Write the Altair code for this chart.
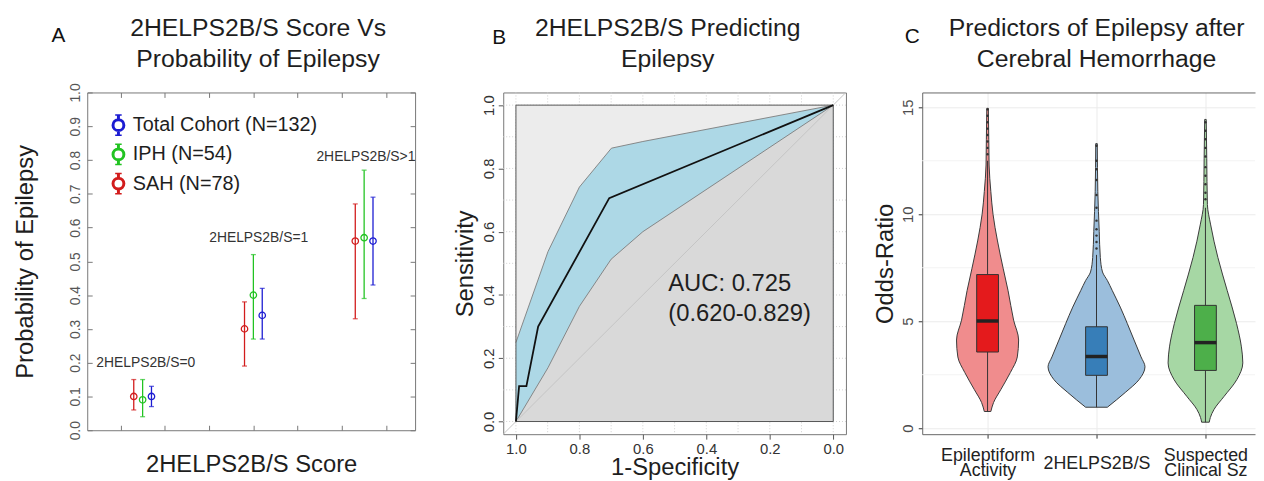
import altair as alt
import pandas as pd

FONT = "Liberation Sans"
TXT = "#1e1e1e"

# ---------------- Panel A data ----------------
A_TITLE = ["2HELPS2B/S Score Vs", "Probability of Epilepsy"]
A_SERIES = ["Total Cohort (N=132)", "IPH (N=54)", "SAH (N=78)"]
A_COLORS = ["#1c1cd2", "#22c322", "#d21c1c"]
A_OFFSETS = [0.2, 0.0, -0.2]
A_GROUP_X = [1.25, 3.75, 6.25]
A_MEAN = {
    "Total Cohort (N=132)": [0.10, 0.34, 0.56],
    "IPH (N=54)": [0.09, 0.40, 0.57],
    "SAH (N=78)": [0.10, 0.30, 0.56],
}
A_LO = {
    "Total Cohort (N=132)": [0.07, 0.27, 0.43],
    "IPH (N=54)": [0.04, 0.27, 0.39],
    "SAH (N=78)": [0.06, 0.19, 0.33],
}
A_HI = {
    "Total Cohort (N=132)": [0.13, 0.42, 0.69],
    "IPH (N=54)": [0.15, 0.52, 0.77],
    "SAH (N=78)": [0.15, 0.38, 0.67],
}
A_GROUP_LABELS = ["2HELPS2B/S=0", "2HELPS2B/S=1", "2HELPS2B/S>1"]
A_LABEL_X = [1.32, 3.87, 6.29]
A_LABEL_Y = [0.20, 0.57, 0.81]
A_XTICKS = [0.75, 1.75, 2.75, 3.75, 4.75, 5.75, 6.75]
A_YTICKS = [0.0, 0.1, 0.2, 0.3, 0.4, 0.5, 0.6, 0.7, 0.8, 0.9, 1.0]
A_XDOMAIN = [0, 7.4]

# ---------------- Panel B data ----------------
B_TITLE = ["2HELPS2B/S Predicting", "Epilepsy"]
B_ROC_SPEC = [1.0, 0.99, 0.967, 0.93, 0.706, 0.0]
B_ROC_SENS = [0.0, 0.112, 0.112, 0.30, 0.706, 1.0]
B_CI_UP_SPEC = [1.0, 0.899, 0.80, 0.699, 0.60, 0.0]
B_CI_UP_SENS = [0.25, 0.537, 0.741, 0.864, 0.885, 1.0]
B_CI_LO_SPEC = [1.0, 0.899, 0.80, 0.70, 0.60, 0.0]
B_CI_LO_SENS = [0.0, 0.17, 0.364, 0.513, 0.60, 1.0]
B_AUC_LINES = ["AUC: 0.725", "(0.620-0.829)"]
B_AUC_X = [0.52, 0.52]
B_AUC_Y = [0.412, 0.318]
B_TICKS = [0.0, 0.2, 0.4, 0.6, 0.8, 1.0]
B_GRID = [0.0, 0.1, 0.2, 0.3, 0.4, 0.5, 0.6, 0.7, 0.8, 0.9, 1.0]
B_DOMAIN = [-0.04, 1.04]

# ---------------- Panel C data ----------------
C_TITLE = ["Predictors of Epilepsy after", "Cerebral Hemorrhage"]
C_CATS = ["Epileptiform Activity", "2HELPS2B/S", "Suspected Clinical Sz"]
C_LABEL_LINES = [["Epileptiform", "Activity"], ["2HELPS2B/S"], ["Suspected", "Clinical Sz"]]
C_POS = [1, 2, 3]
C_VIOLIN_FILL = ["#f08c8d", "#9bbedc", "#a6d7a4"]
C_BOX_FILL = ["#e41a1c", "#377eb8", "#4daf4a"]
C_VIOLIN_V = [
    [0.78, 1.2, 1.8, 2.6, 3.33, 4.12, 5.05, 6.43, 7.45, 8.75, 10.0, 11.06, 12.3, 13.5, 14.95],
    [0.98, 1.67, 2.27, 2.87, 3.33, 4.12, 4.9, 5.66, 6.43, 6.9, 7.3, 7.98, 9.2, 11.06, 13.3],
    [0.28, 0.5, 0.88, 1.48, 2.27, 3.05, 3.8, 4.9, 6.43, 7.98, 9.5, 10.45, 12.6, 14.43],
]
C_VIOLIN_HW = [
    [0.030, 0.055, 0.121, 0.209, 0.273, 0.285, 0.239, 0.188, 0.144, 0.091, 0.050, 0.030, 0.014, 0.011, 0.007],
    [0.100, 0.264, 0.391, 0.445, 0.409, 0.345, 0.282, 0.218, 0.145, 0.100, 0.055, 0.035, 0.025, 0.012, 0.007],
    [0.035, 0.045, 0.079, 0.170, 0.288, 0.343, 0.330, 0.285, 0.200, 0.114, 0.048, 0.018, 0.012, 0.007],
]
C_Q1 = [3.56, 2.47, 2.70]
C_MED = [5.01, 3.35, 4.00]
C_Q3 = [7.18, 4.74, 5.74]
C_WLO = [0.78, 0.98, 0.28]
C_WHI = [12.5, 8.1, 10.3]
C_OUTLIERS = [
    [12.8, 13.1, 13.4, 13.7, 14.0, 14.3, 14.6, 14.9],
    [8.4, 8.7, 9.0, 9.3, 9.7, 10.3, 10.9, 11.6, 12.1, 12.5, 13.2],
    [10.7, 11.0, 11.4, 11.8, 12.2, 12.7, 13.1, 13.5, 13.9, 14.3],
]
C_YTICKS = [0, 5, 10, 15]
C_MINOR = [2.5, 7.5, 12.5]
C_YDOMAIN = [-0.28, 15.69]
C_XDOMAIN = [0.4, 3.455]

IND = dict(x="independent", y="independent")
TITLE_Y = -57


def title_layer(lines, xpix):
    return alt.Chart(pd.DataFrame({"t": ["\n".join(lines)]})).mark_text(
        fontSize=25, font=FONT, color=TXT, align="center", baseline="alphabetic",
        lineBreak="\n", lineHeight=31).encode(text="t:N", x=alt.value(xpix), y=alt.value(TITLE_Y))


def letter_layer(letter, xpix, ypix):
    return alt.Chart(pd.DataFrame({"t": [letter]})).mark_text(
        fontSize=21, font=FONT, color="#111", baseline="alphabetic").encode(
        text="t:N", x=alt.value(xpix), y=alt.value(ypix))


# ======================= Panel A =======================
WA, HA = 331, 341
rows = []
for s, off in zip(A_SERIES, A_OFFSETS):
    for gx, m, lo, hi in zip(A_GROUP_X, A_MEAN[s], A_LO[s], A_HI[s]):
        rows.append(dict(series=s, x=gx + off, mean=m, lo=lo, hi=hi))
dfA = pd.DataFrame(rows)
dfA_lab = pd.DataFrame({"label": A_GROUP_LABELS, "x": A_LABEL_X, "y": A_LABEL_Y})

xsA = alt.Scale(domain=A_XDOMAIN, nice=False, zero=False)
ysA = alt.Scale(domain=[0, 1], nice=False, zero=False)
colA = alt.Scale(domain=A_SERIES, range=A_COLORS)

axA_x = alt.Axis(orient="bottom", values=A_XTICKS, labels=False, tickSize=5, offset=-5, domain=False,
                 grid=False, tickColor="#777", title="2HELPS2B/S Score", titleFontSize=24,
                 titleColor=TXT, titlePadding=22)
axA_y = alt.Axis(orient="left", values=A_YTICKS, format=".1f", tickSize=5, offset=-5, domain=False,
                 grid=False, tickColor="#777", labelAngle=-90, labelAlign="center",
                 labelBaseline="bottom", labelPadding=5, labelFontSize=14, labelColor="#555",
                 labelFlush=False, labelOverlap=False,
                 title="Probability of Epilepsy", titleFontSize=24, titleColor=TXT, titlePadding=31)
axA_top = alt.Axis(orient="top", values=A_XTICKS, labels=False, tickSize=5, offset=-5, domain=False,
                   grid=False, tickColor="#777", title=None)
axA_right = alt.Axis(orient="right", values=A_YTICKS, labels=False, tickSize=5, offset=-5, domain=False,
                     grid=False, tickColor="#777", title=None)

SYM = ("M0,-1L0,-0.5M0,0.5L0,1M-0.3,-1L0.3,-1M-0.3,1L0.3,1"
       "M-0.5,0A0.5,0.5,0,1,1,0.5,0A0.5,0.5,0,1,1,-0.5,0Z")
legA = alt.Legend(title=None, orient="none", legendX=19, legendY=22, symbolType=SYM, symbolSize=480,
                  symbolStrokeWidth=3, labelFontSize=20, labelFont=FONT, labelColor=TXT,
                  labelOffset=2, rowPadding=7.5, clipHeight=22, padding=0, labelLimit=0)

baseA = alt.Chart(dfA)
a_rules = baseA.mark_rule(strokeWidth=1.3).encode(
    x=alt.X("x:Q", scale=xsA, axis=axA_x),
    y=alt.Y("lo:Q", scale=ysA, axis=axA_y),
    y2="hi:Q",
    color=alt.Color("series:N", scale=colA, legend=legA),
)
a_cap_lo = baseA.mark_tick(orient="horizontal", size=5, thickness=1.3).encode(
    x=alt.X("x:Q", scale=xsA, axis=None),
    y=alt.Y("lo:Q", scale=ysA, axis=None),
    color=alt.Color("series:N", scale=colA, legend=None),
)
a_cap_hi = baseA.mark_tick(orient="horizontal", size=5, thickness=1.3).encode(
    x=alt.X("x:Q", scale=xsA, axis=None),
    y=alt.Y("hi:Q", scale=ysA, axis=None),
    color=alt.Color("series:N", scale=colA, legend=None),
)
a_pts = baseA.mark_point(shape="circle", filled=False, size=42, strokeWidth=1.3, opacity=1).encode(
    x=alt.X("x:Q", scale=xsA, axis=None),
    y=alt.Y("mean:Q", scale=ysA, axis=None),
    color=alt.Color("series:N", scale=colA, legend=None),
)
a_ticks = baseA.mark_point(opacity=0).encode(
    x=alt.X("x:Q", scale=xsA, axis=axA_top),
    y=alt.Y("mean:Q", scale=ysA, axis=axA_right),
)
a_lab = alt.Chart(dfA_lab).mark_text(fontSize=14, font=FONT, color="#333").encode(
    x=alt.X("x:Q", scale=xsA, axis=None),
    y=alt.Y("y:Q", scale=ysA, axis=None),
    text="label:N",
)

chartA = alt.layer(a_rules, a_cap_lo, a_cap_hi, a_pts, a_ticks, a_lab,
                   title_layer(A_TITLE, WA / 2 + 7), letter_layer("A", -29, -51)).resolve_axis(
    **IND).resolve_legend(color="independent").properties(width=WA, height=HA)

# ======================= Panel B =======================
WB, HB = 346, 345
xsB = alt.Scale(domain=B_DOMAIN, reverse=True, nice=False, zero=False)
ysB = alt.Scale(domain=B_DOMAIN, nice=False, zero=False)
axB_x = alt.Axis(orient="bottom", values=B_TICKS, format=".1f", tickSize=5, tickColor="#555",
                 domain=False, grid=False, labelFontSize=15, labelColor="#333", labelPadding=2,
                 labelFlush=False, title="1-Specificity", titleFontSize=24, titleColor=TXT,
                 titlePadding=0)
axB_y = alt.Axis(orient="left", values=B_TICKS, format=".1f", tickSize=5, tickColor="#555",
                 domain=False, grid=False, labelAngle=-90, labelAlign="center",
                 labelBaseline="bottom", labelFontSize=15, labelColor="#333", labelPadding=2,
                 labelFlush=False, title="Sensitivity", titleFontSize=24, titleColor=TXT,
                 titlePadding=4)

dfB_roc = pd.DataFrame({"spec": B_ROC_SPEC, "sens": B_ROC_SENS, "i": range(len(B_ROC_SPEC))})
dfB_up = pd.DataFrame({"spec": B_CI_UP_SPEC, "sens": B_CI_UP_SENS, "zero": 0.0})
dfB_lo = pd.DataFrame({"spec": B_CI_LO_SPEC, "sens": B_CI_LO_SENS, "zero": 0.0})
dfB_edges = pd.concat([
    dfB_up.assign(edge="upper", i=range(len(B_CI_UP_SPEC))),
    dfB_lo.assign(edge="lower", i=range(len(B_CI_LO_SPEC))),
])
dfB_diag = pd.DataFrame({"spec": [B_DOMAIN[1], B_DOMAIN[0]], "sens": [B_DOMAIN[0], B_DOMAIN[1]]})
dfB_sq = pd.DataFrame({"x": [1.0], "x2": [0.0], "y": [0.0], "y2": [1.0]})
dfB_grid = pd.DataFrame({"v": B_GRID})
dfB_auc = pd.DataFrame({"t": B_AUC_LINES, "x": B_AUC_X, "y": B_AUC_Y})


def bx(f, ax=None):
    return alt.X(f, scale=xsB, axis=ax)


def by(f, ax=None):
    return alt.Y(f, scale=ysB, axis=ax)


b_gv = alt.Chart(dfB_grid).mark_rule(color="#cfcfcf", strokeDash=[1, 2], strokeWidth=1).encode(
    x=bx("v:Q", axB_x))
b_gh = alt.Chart(dfB_grid).mark_rule(color="#cfcfcf", strokeDash=[1, 2], strokeWidth=1).encode(
    y=by("v:Q", axB_y))
b_sq = alt.Chart(dfB_sq).mark_rect(fill="#ececec").encode(
    x=bx("x:Q"), x2="x2:Q", y=by("y:Q"), y2="y2:Q")
b_up = alt.Chart(dfB_up).mark_area(fill="#add8e6", opacity=1).encode(
    x=bx("spec:Q"), y=by("sens:Q"), y2="zero:Q")
b_lo = alt.Chart(dfB_lo).mark_area(fill="#d9d9d9", opacity=1).encode(
    x=bx("spec:Q"), y=by("sens:Q"), y2="zero:Q")
b_edges = alt.Chart(dfB_edges).mark_line(color="#7d7d7d", strokeWidth=0.9).encode(
    x=bx("spec:Q"), y=by("sens:Q"), detail="edge:N", order="i:Q")
b_diag = alt.Chart(dfB_diag).mark_line(color="#c4c4c4", strokeWidth=1).encode(
    x=bx("spec:Q"), y=by("sens:Q"))
b_border = alt.Chart(dfB_sq).mark_rect(fillOpacity=0, stroke="#555", strokeWidth=1).encode(
    x=bx("x:Q"), x2="x2:Q", y=by("y:Q"), y2="y2:Q")
b_roc = alt.Chart(dfB_roc).mark_line(color="#111", strokeWidth=1.8).encode(
    x=bx("spec:Q"), y=by("sens:Q"), order="i:Q")
b_auc = alt.Chart(dfB_auc).mark_text(fontSize=24, font=FONT, color=TXT, align="left",
                                     baseline="alphabetic").encode(
    x=bx("x:Q"), y=by("y:Q"), text="t:N")

chartB = alt.layer(b_gv, b_gh, b_sq, b_up, b_lo, b_edges, b_diag, b_border, b_roc, b_auc,
                   title_layer(B_TITLE, WB / 2 - 7), letter_layer("B", -4, -49)).resolve_axis(
    **IND).properties(width=WB, height=HB)

# ======================= Panel C =======================
WC, HC = 336, 345
vrows = []
for cat, pos, vs, ws in zip(C_CATS, C_POS, C_VIOLIN_V, C_VIOLIN_HW):
    for v, w in zip(vs, ws):
        vrows.append(dict(cat=cat, y=v, xl=pos - w, xr=pos + w))
dfC_v = pd.DataFrame(vrows)
BOX_HALF = 0.1
dfC_box = pd.DataFrame({
    "cat": C_CATS, "pos": C_POS,
    "bl": [p - BOX_HALF for p in C_POS], "br": [p + BOX_HALF for p in C_POS],
    "q1": C_Q1, "med": C_MED, "q3": C_Q3, "wlo": C_WLO, "whi": C_WHI,
})
orows = []
for pos, outs in zip(C_POS, C_OUTLIERS):
    for o in outs:
        orows.append(dict(pos=pos, y=o))
dfC_out = pd.DataFrame(orows)
dfC_minor = pd.DataFrame({"v": C_MINOR})

xsC = alt.Scale(domain=C_XDOMAIN, nice=False, zero=False)
ysC = alt.Scale(domain=C_YDOMAIN, nice=False, zero=False)
lab_expr = " : ".join(
    f"datum.value == {p} ? {lines!r}" for p, lines in zip(C_POS[:-1], C_LABEL_LINES[:-1])
) + f" : {C_LABEL_LINES[-1]!r}"
single_line_test = " || ".join(
    f"datum.value == {p}" for p, lines in zip(C_POS, C_LABEL_LINES) if len(lines) == 1)
axC_x = alt.Axis(orient="bottom", values=C_POS, labelExpr=lab_expr, tickSize=4, tickColor="#333",
                 domain=True, domainColor="#666", grid=True, gridColor="#ebebeb", labelFontSize=18,
                 labelColor="#222", labelBaseline="middle", labelLineHeight=15,
                 labelPadding={"condition": {"test": single_line_test, "value": 26}, "value": 18},
                 labelFlush=False, labelOverlap=False, title=None)
axC_y = alt.Axis(orient="left", values=C_YTICKS, tickSize=4, tickColor="#333", domain=True,
                 domainColor="#666", grid=True, gridColor="#ebebeb", labelAngle=-90,
                 labelAlign="center", labelBaseline="bottom", labelFontSize=15, labelColor="#4d4d4d",
                 labelPadding=3, labelFlush=False,
                 title="Odds-Ratio", titleFontSize=24, titleColor=TXT, titlePadding=3)
axC_top = alt.Axis(orient="top", labels=False, ticks=False, domain=True, domainColor="#666",
                   grid=False, title=None)

c_minor = alt.Chart(dfC_minor).mark_rule(color="#f3f3f3", strokeWidth=1).encode(
    y=alt.Y("v:Q", scale=ysC, axis=None))
c_violin = alt.Chart(dfC_v).mark_area(orient="horizontal", interpolate="monotone", stroke="#3a3a3a",
                                      strokeWidth=1, opacity=1).encode(
    y=alt.Y("y:Q", scale=ysC, axis=axC_y),
    x=alt.X("xl:Q", scale=xsC, axis=axC_x),
    x2="xr:Q",
    color=alt.Color("cat:N", scale=alt.Scale(domain=C_CATS, range=C_VIOLIN_FILL), legend=None),
)
c_whisk = alt.Chart(dfC_box).mark_rule(color="#333", strokeWidth=1).encode(
    x=alt.X("pos:Q", scale=xsC, axis=axC_top), y=alt.Y("wlo:Q", scale=ysC, axis=None), y2="whi:Q")
c_box = alt.Chart(dfC_box).mark_rect(stroke="#333", strokeWidth=1).encode(
    x=alt.X("bl:Q", scale=xsC, axis=None), x2="br:Q",
    y=alt.Y("q1:Q", scale=ysC, axis=None), y2="q3:Q",
    fill=alt.Fill("cat:N", scale=alt.Scale(domain=C_CATS, range=C_BOX_FILL), legend=None))
c_med = alt.Chart(dfC_box).mark_rule(color="#222", strokeWidth=3.5).encode(
    x=alt.X("bl:Q", scale=xsC, axis=None), x2="br:Q", y=alt.Y("med:Q", scale=ysC, axis=None))
c_out = alt.Chart(dfC_out).mark_circle(color="#333", size=6, opacity=1).encode(
    x=alt.X("pos:Q", scale=xsC, axis=None), y=alt.Y("y:Q", scale=ysC, axis=None))

chartC = alt.layer(c_minor, c_violin, c_whisk, c_box, c_med, c_out,
                   title_layer(C_TITLE, 176), letter_layer("C", -10, -50)).resolve_axis(
    **IND).resolve_scale(color="independent", fill="independent").properties(
    width=WC, height=HC, view=alt.ViewBackground(stroke="transparent"))

inner = alt.hconcat(chartB, chartC, spacing=24)
chart = alt.hconcat(chartA, inner, spacing=37).properties(
    padding={"left": 5, "right": 0, "top": 5, "bottom": 0}
).configure(font=FONT).configure_view(stroke="#777", strokeWidth=1).configure_axis(
    labelFont=FONT, titleFont=FONT, titleFontWeight="normal")

chart.save("out.html", embed_options={"renderer": "svg", "actions": False})
